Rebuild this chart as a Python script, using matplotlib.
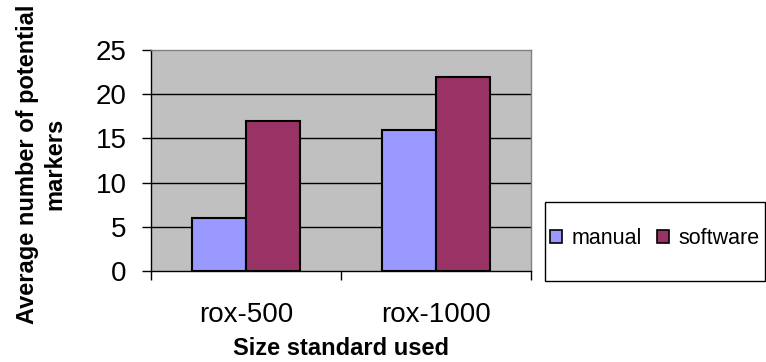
import matplotlib
matplotlib.use("Agg")
import matplotlib.pyplot as plt
from matplotlib.patches import Patch, Rectangle
import numpy as np

categories = ["rox-500", "rox-1000"]
manual = [6, 16]
software = [17, 22]
series_names = ["manual", "software"]
yticks = [0, 5, 10, 15, 20, 25]

plt.rcParams['font.family'] = ['Liberation Sans', 'DejaVu Sans']

W, H = 766, 362
fig = plt.figure(figsize=(W / 100, H / 100), dpi=100)
ax = fig.add_axes([151 / W, (H - 271) / H, 380 / W, 221 / H])
ax.set_facecolor('#C0C0C0')

x = np.arange(len(categories))
bw = 1 / 3.5
ax.bar(x - bw / 2, manual, bw, color='#9999FF', edgecolor='black', linewidth=1.5, zorder=3)
ax.bar(x + bw / 2, software, bw, color='#993366', edgecolor='black', linewidth=1.5, zorder=3)

ax.set_xlim(-0.5, len(categories) - 0.5)
ax.set_ylim(0, 25)
ax.set_yticks(yticks)
ax.set_yticklabels([str(v) for v in yticks], fontsize=20)
ax.tick_params(axis='y', direction='out', length=6.5, width=1, pad=11)
for v in yticks[1:-1]:
    ax.axhline(v, color='black', linewidth=1, zorder=1)

ax.set_xticks(x)
ax.set_xticklabels(categories, fontsize=20)
ax.tick_params(axis='x', which='major', length=0, pad=22)
ax.set_xticks(np.arange(-0.5, len(categories)), minor=True)
ax.tick_params(axis='x', which='minor', direction='out', length=6.5, width=1)

for s in ['left', 'bottom']:
    ax.spines[s].set_color('black')
    ax.spines[s].set_linewidth(1)
for s in ['top', 'right']:
    ax.spines[s].set_color('#808080')
    ax.spines[s].set_linewidth(1)

fig.text(341 / W, (H - 355) / H, "Size standard used", fontsize=17, fontweight='bold',
         ha='center', va='baseline')
fig.text(41 / W, (H - 164) / H, "Average number of potential\nmarkers", fontsize=17,
         fontweight='bold', rotation=90, ha='center', va='center', multialignment='center',
         linespacing=1.25)

# legend frame
fig.patches.append(Rectangle((545 / W, (H - 281) / H), 220 / W, 79 / H,
                             transform=fig.transFigure, facecolor='white',
                             edgecolor='black', linewidth=1))
handles = [Patch(facecolor='#9999FF', edgecolor='black', linewidth=1.2),
           Patch(facecolor='#993366', edgecolor='black', linewidth=1.2)]
fig.legend(handles, series_names, loc='center left', bbox_to_anchor=(550 / W, (H - 239) / H),
           ncol=2, frameon=False, fontsize=15.5, handlelength=0.55, handleheight=0.55,
           handletextpad=0.45, columnspacing=0.7, borderpad=0, borderaxespad=0)

fig.savefig("out.png", dpi=100)
